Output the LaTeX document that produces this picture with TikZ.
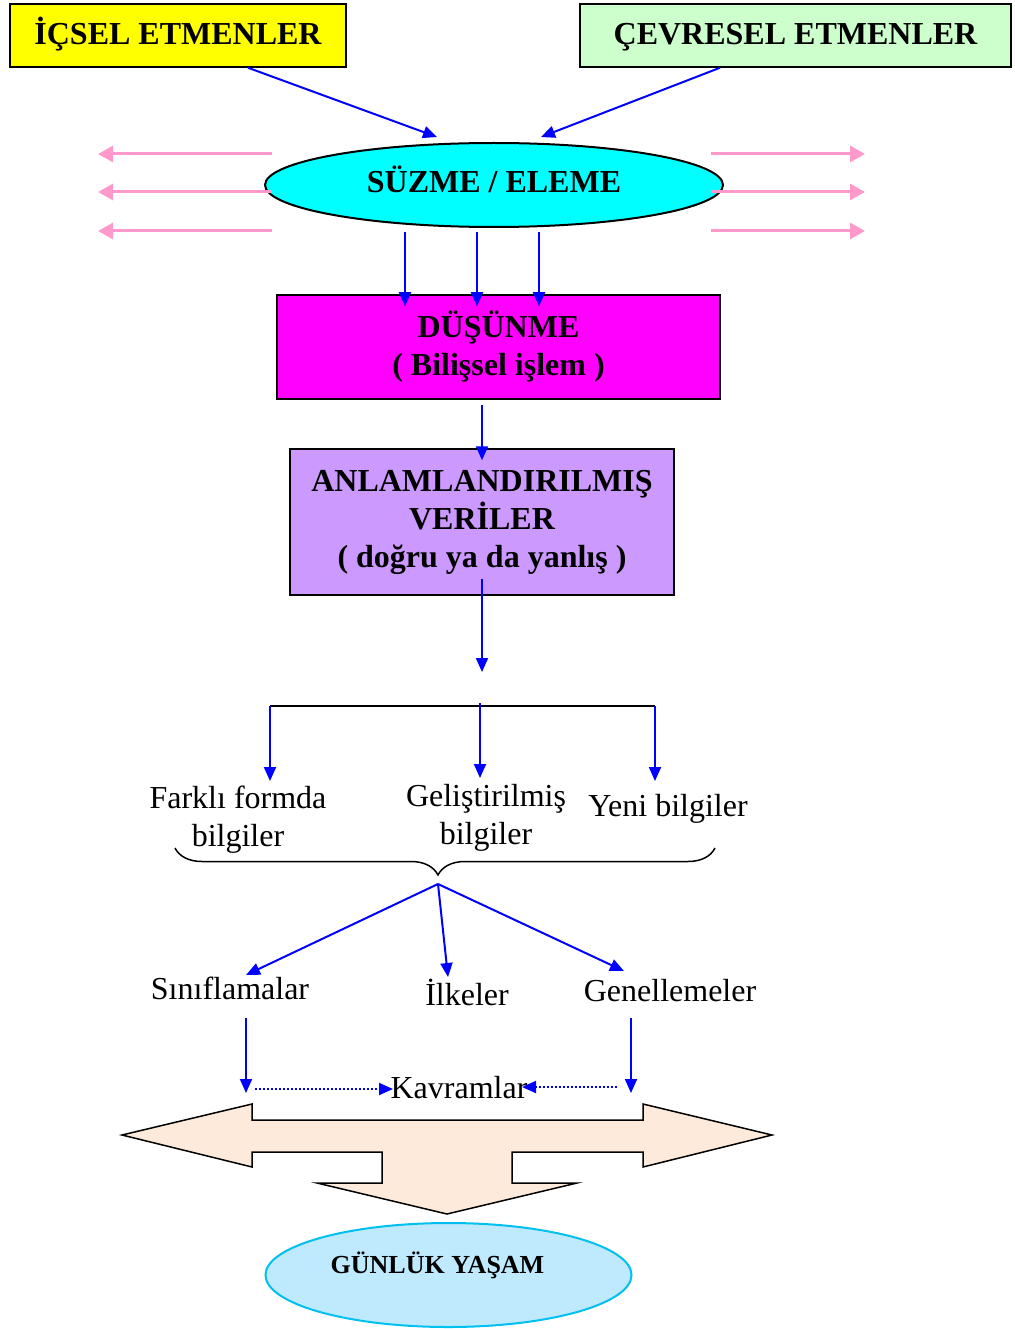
\documentclass[tikz,border=0pt]{standalone}
\usepackage{fontspec}
\setmainfont{Liberation Serif}
\usetikzlibrary{shapes.geometric,arrows.meta,decorations.pathreplacing}

\definecolor{titleyellow}{HTML}{FFFF00}
\definecolor{titlegreen}{HTML}{CCFFCC}
\definecolor{filtercyan}{HTML}{00FFFF}
\definecolor{thinkmagenta}{HTML}{FF00FF}
\definecolor{datalilac}{HTML}{CC99FF}
\definecolor{flowblue}{HTML}{0000FF}
\definecolor{rejectpink}{HTML}{FF99CC}
\definecolor{arrowpeach}{HTML}{FDEADA}
\definecolor{lifefill}{HTML}{BFE9FD}
\definecolor{lifeedge}{HTML}{00C0F0}

\begin{document}
\begin{tikzpicture}[x=1pt,y=-1pt,
  bigbold/.style={font=\fontsize{32}{38}\selectfont\bfseries, align=center},
  plain/.style={font=\fontsize{32}{38}\selectfont, align=center, inner sep=0pt},
  box/.style={draw=black, line width=1.5pt, rectangle, inner sep=0pt},
  flow/.style={draw=flowblue, line width=2pt, -{Triangle[length=14pt,width=12pt]}},
  reject/.style={draw=rejectpink, line width=3pt, -{Triangle[length=15pt,width=16pt]}},
  dotflow/.style={flow, dotted},
]
\useasboundingbox (0,0) rectangle (1014,1329);

% --- source boxes -------------------------------------------------------
\node[box, fill=titleyellow, minimum width=336pt, minimum height=63pt, bigbold,
  text height=26pt, text depth=7pt] (icsel) at (178,35.5) {İÇSEL ETMENLER};
\node[box, fill=titlegreen, minimum width=431pt, minimum height=63pt, bigbold,
  text height=26pt, text depth=7pt] (cevre) at (795.5,35.5) {ÇEVRESEL ETMENLER};

% --- filter ellipse -----------------------------------------------------
\node[ellipse, draw=black, line width=2pt, fill=filtercyan, minimum width=458pt,
  minimum height=84pt, inner sep=0pt, bigbold, text height=24pt, text depth=8pt]
  (suzme) at (494,185) {SÜZME / ELEME};

\draw[flow] ([shift={(70,0)}]icsel.south) -- ([shift={(-57,-5)}]suzme.north);
\draw[flow] ([shift={(-75.5,0)}]cevre.south) -- ([shift={(47,-5)}]suzme.north);

% rejected stimuli leaving on both sides
\foreach \dy in {-31,7,46} {
  \draw[reject] ([shift={(-222,\dy)}]suzme.center) -- ++(-174,0);
  \draw[reject] ([shift={(217,\dy)}]suzme.center) -- ++(154,0);
}

% --- thinking -----------------------------------------------------------
\node[box, fill=thinkmagenta, minimum width=443pt, minimum height=104pt, bigbold]
  (dusunme) at (498.5,347) {DÜŞÜNME\\( Bilişsel işlem )};

\draw[flow] ([shift={(-89,47)}]suzme.center) -- ([shift={(-93.5,12)}]dusunme.north);
\draw[flow] ([shift={(-17,47)}]suzme.center) -- ([shift={(-21.5,12)}]dusunme.north);
\draw[flow] ([shift={(45,47)}]suzme.center) -- ([shift={(40.5,12)}]dusunme.north);

% --- interpreted data ---------------------------------------------------
\node[box, fill=datalilac, minimum width=384pt, minimum height=146pt, bigbold]
  (anlam) at (482,522) {ANLAMLANDIRILMIŞ\\VERİLER\\( doğru ya da yanlış )};

\draw[flow] ([shift={(-16.5,5)}]dusunme.south) -- ([shift={(0,12)}]anlam.north);

\coordinate (fork) at (482,672);
\draw[flow] ([shift={(0,-17)}]anlam.south) -- (fork);

% --- kinds of knowledge -------------------------------------------------
\node[plain] (farkli) at (238,820) {Farklı formda\\bilgiler};
\node[plain] (gelis) at (486,818) {Geliştirilmiş\\bilgiler};
\node[plain] (yeni) at (668,809) {Yeni bilgiler};

\coordinate (barL) at (270,706);
\coordinate (barM) at (480,703);
\coordinate (barR) at (655,706);
\draw[black, line width=1.5pt] (barL) -- (barR);
\draw[flow] (barL) -- ([shift={(32,-39)}]farkli.center);
\draw[flow] (barM) -- ([shift={(-6,-40)}]gelis.center);
\draw[flow] (barR) -- ([shift={(-13,-28)}]yeni.center);

\coordinate (braceL) at (175,848);
\coordinate (braceR) at (715,848);
\draw[black, line width=1.5pt, decorate,
  decoration={brace, mirror, amplitude=27pt, aspect=0.487}] (braceL) -- (braceR);

% --- results ------------------------------------------------------------
\node[plain] (sinif) at (230,988) {Sınıflamalar};
\node[plain] (ilke) at (467,992) {İlkeler};
\node[plain] (genel) at (670,991) {Genellemeler};

\coordinate (hub) at (438,884);
\draw[flow] (hub) -- ([shift={(16,-13)}]sinif.center);
\draw[flow] (hub) -- ([shift={(-19,-15)}]ilke.center);
\draw[flow] (hub) -- ([shift={(-46,-20)}]genel.center);

\node[plain] (kavram) at (459,1088) {Kavramlar};
\coordinate (kL) at (246,1093);
\coordinate (kR) at (631,1093);
\draw[flow] ([shift={(16,30)}]sinif.center) -- (kL);
\draw[flow] ([shift={(-39,27)}]genel.center) -- (kR);
\draw[dotflow] ([shift={(9,-4)}]kL) -- ([shift={(-66,1)}]kavram.center);
\draw[dotflow] ([shift={(-14,-6)}]kR) -- ([shift={(63,-1)}]kavram.center);

% --- three-way block arrow ----------------------------------------------
\draw[black, line width=1.5pt, fill=arrowpeach, line join=miter]
  (122,1135) -- (252,1104) -- (252,1120) -- (643,1120) -- (643,1104) -- (772,1135)
  -- (643,1167) -- (643,1152) -- (512,1152) -- (512,1183) -- (577,1183)
  -- (447,1214) -- (317,1183) -- (382,1183) -- (382,1152) -- (252,1152)
  -- (252,1167) -- cycle;

% --- daily life ---------------------------------------------------------
\node[ellipse, draw=lifeedge, line width=2pt, fill=lifefill, minimum width=366pt,
  minimum height=104pt, inner sep=0pt] (gunluk) at (448.5,1275) {};
\node[font=\fontsize{26}{30}\selectfont\bfseries, inner sep=0pt]
  (gunlukText) at ([shift={(-11,-10)}]gunluk.center) {GÜNLÜK YAŞAM};

\end{tikzpicture}
\end{document}
